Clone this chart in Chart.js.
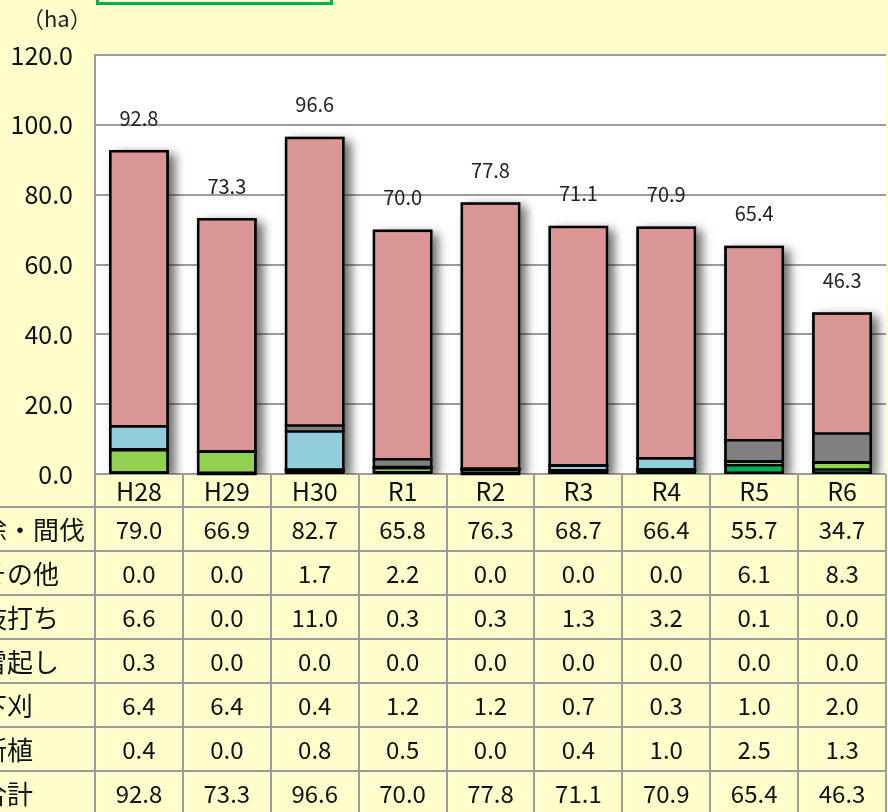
<!DOCTYPE html>
<html><head><meta charset="utf-8">
<script src="https://cdn.jsdelivr.net/npm/chart.js@4.4.0/dist/chart.umd.min.js"></script>
<style>html,body{margin:0;padding:0;background:#FFFFCC;overflow:hidden;}</style>
</head><body>
<canvas id="c" width="888" height="812"></canvas>
<script>
// ---- data ----
const categories = ['H28','H29','H30','R1','R2','R3','R4','R5','R6'];
const seriesNames = ['除・間伐','その他','枝打ち','雪起し','下刈','新植'];
const jokanbatsu = [79.0,66.9,82.7,65.8,76.3,68.7,66.4,55.7,34.7];
const sonota     = [0.0,0.0,1.7,2.2,0.0,0.0,0.0,6.1,8.3];
const edauchi    = [6.6,0.0,11.0,0.3,0.3,1.3,3.2,0.1,0.0];
const yukiokoshi = [0.3,0.0,0.0,0.0,0.0,0.0,0.0,0.0,0.0];
const shitagari  = [6.4,6.4,0.4,1.2,1.2,0.7,0.3,1.0,2.0];
const shinshoku  = [0.4,0.0,0.8,0.5,0.0,0.4,1.0,2.5,1.3];
const totals     = [92.8,73.3,96.6,70.0,77.8,71.1,70.9,65.4,46.3];
const totalName = '合計';
const unitLabel = '（ha）';
const yTicks = [0,20,40,60,80,100,120];

const FONT = '"Noto Sans CJK JP", "Noto Sans", sans-serif';
const GRID = '#9c9c9c';

// table rows in display order
const tableRows = [
  [seriesNames[0], jokanbatsu],
  [seriesNames[1], sonota],
  [seriesNames[2], edauchi],
  [seriesNames[3], yukiokoshi],
  [seriesNames[4], shitagari],
  [seriesNames[5], shinshoku],
  [totalName, totals]
];

const tablePlugin = {
  id: 'tablePlugin',
  beforeDraw(chart) {
    const ctx = chart.ctx, ca = chart.chartArea, xs = chart.scales.x;
    ctx.save();
    ctx.fillStyle = '#FFFFCC';
    ctx.fillRect(0, 0, chart.width, chart.height);
    ctx.fillStyle = '#ffffff';
    ctx.fillRect(ca.left, ca.top, ca.right - ca.left, ca.bottom - ca.top);

    // green box at top (cut off)
    ctx.strokeStyle = '#00B050';
    ctx.lineWidth = 3;
    ctx.strokeRect(97.5, -10, 234, 13.5);

    // unit label
    ctx.fillStyle = '#222';
    ctx.font = '22px ' + FONT;
    ctx.textAlign = 'left';
    ctx.textBaseline = 'middle';
    ctx.fillText(unitLabel, 22, 19);

    // table
    const rowTop = ca.bottom + 33, rowH = 44;
    const n = categories.length;
    const bounds = [ca.left];
    for (let i = 0; i < n - 1; i++) {
      bounds.push(Math.round((xs.getPixelForValue(i) + xs.getPixelForValue(i + 1)) / 2));
    }
    bounds.push(ca.right);

    ctx.strokeStyle = GRID;
    ctx.lineWidth = 2;
    ctx.beginPath();
    for (let r = 0; r <= tableRows.length; r++) {
      const y = rowTop + r * rowH;
      ctx.moveTo(0, y); ctx.lineTo(ca.right + 1, y);
    }
    ctx.moveTo(ca.left, ca.bottom); ctx.lineTo(ca.right, ca.bottom);
    bounds.forEach(x => { ctx.moveTo(x, ca.bottom); ctx.lineTo(x, chart.height); });
    ctx.stroke();

    ctx.fillStyle = '#111';
    tableRows.forEach((row, r) => {
      const yc = rowTop + rowH * (r + 0.5) + 1;
      ctx.font = '26px ' + FONT;
      ctx.textAlign = 'left';
      ctx.fillText(row[0], -19, yc);
      ctx.font = '24px ' + FONT;
      ctx.textAlign = 'center';
      row[1].forEach((v, i) => {
        ctx.fillText(v.toFixed(1), xs.getPixelForValue(i), yc);
      });
    });
    ctx.restore();
  },
  beforeDatasetsDraw(chart) {
    // drop shadows
    const ctx = chart.ctx, ca = chart.chartArea, ys = chart.scales.y;
    const meta = chart.getDatasetMeta(0);
    ctx.save();
    ctx.beginPath();
    ctx.rect(ca.left, ca.top, ca.right - ca.left, ca.bottom - ca.top);
    ctx.clip();
    meta.data.forEach((bar, i) => {
      const p = bar.getProps(['x', 'width'], true);
      const top = ys.getPixelForValue(totals[i]);
      const bot = ys.getPixelForValue(0);
      ctx.shadowColor = 'rgba(0,0,0,0.6)';
      ctx.shadowBlur = 10;
      ctx.shadowOffsetX = 6;
      ctx.shadowOffsetY = 4;
      ctx.fillStyle = '#ffffff';
      ctx.fillRect(p.x - p.width / 2, top, p.width, bot - top);
    });
    ctx.restore();
  },
  afterDatasetsDraw(chart) {
    const ctx = chart.ctx, ys = chart.scales.y;
    const nDs = chart.data.datasets.length;
    ctx.save();
    ctx.strokeStyle = '#000';
    ctx.lineWidth = 2.5;
    // separators between stacked segments (use element y positions)
    for (let d = 0; d < nDs - 1; d++) {
      const meta = chart.getDatasetMeta(d);
      meta.data.forEach(bar => {
        const p = bar.getProps(['x', 'y', 'width'], true);
        ctx.beginPath();
        ctx.moveTo(p.x - p.width / 2, p.y);
        ctx.lineTo(p.x + p.width / 2, p.y);
        ctx.stroke();
      });
    }
    const meta0 = chart.getDatasetMeta(0);
    ctx.fillStyle = '#222';
    ctx.font = '20px ' + FONT;
    ctx.textAlign = 'center';
    ctx.textBaseline = 'middle';
    meta0.data.forEach((bar, i) => {
      const p = bar.getProps(['x', 'width'], true);
      const top = ys.getPixelForValue(totals[i]);
      const bot = ys.getPixelForValue(0);
      ctx.strokeRect(p.x - p.width / 2 + 1.25, top + 1.25, p.width - 2.5, bot - top - 2.5);
      ctx.fillText(totals[i].toFixed(1), p.x, top - 32);
    });
    ctx.restore();
  }
};

const segBorder = {top: 0.5, bottom: 0.5, left: 2.5, right: 2.5};
function ds(label, data, color) {
  return {label, data, backgroundColor: color, borderColor: '#000',
          borderWidth: segBorder, borderSkipped: false, inflateAmount: 0,
          barPercentage: 0.68, categoryPercentage: 1.0};
}

new Chart(document.getElementById('c'), {
  type: 'bar',
  data: {
    labels: categories,
    datasets: [
      ds(seriesNames[5], shinshoku, '#00B050'),
      ds(seriesNames[4], shitagari, '#92D050'),
      ds(seriesNames[3], yukiokoshi, '#FFC000'),
      ds(seriesNames[2], edauchi, '#92CDDC'),
      ds(seriesNames[1], sonota, '#808080'),
      ds(seriesNames[0], jokanbatsu, '#DA9694')
    ]
  },
  options: {
    responsive: false,
    animation: false,
    devicePixelRatio: 1,
    layout: {padding: {left: 0, right: 2, top: 55, bottom: 0}},
    plugins: {legend: {display: false}, tooltip: {enabled: false}, title: {display: false}},
    scales: {
      x: {
        stacked: true,
        offset: true,
        grid: {display: false, drawTicks: false},
        border: {display: false},
        ticks: {color: '#111', font: {family: FONT, size: 25}, padding: 2, maxRotation: 0, autoSkip: false},
        afterFit(scale) { scale.height = 812 - 474; }
      },
      y: {
        stacked: true,
        min: 0, max: 120,
        afterBuildTicks(scale) { scale.ticks = yTicks.map(v => ({value: v})); },
        grid: {color: GRID, lineWidth: 2, drawTicks: false},
        border: {display: true, color: GRID, width: 2},
        ticks: {color: '#111', font: {family: FONT, size: 25}, padding: 22,
                callback: v => Number(v).toFixed(1)},
        afterFit(scale) { scale.width = 95; }
      }
    }
  },
  plugins: [tablePlugin]
});
</script>
</body></html>
